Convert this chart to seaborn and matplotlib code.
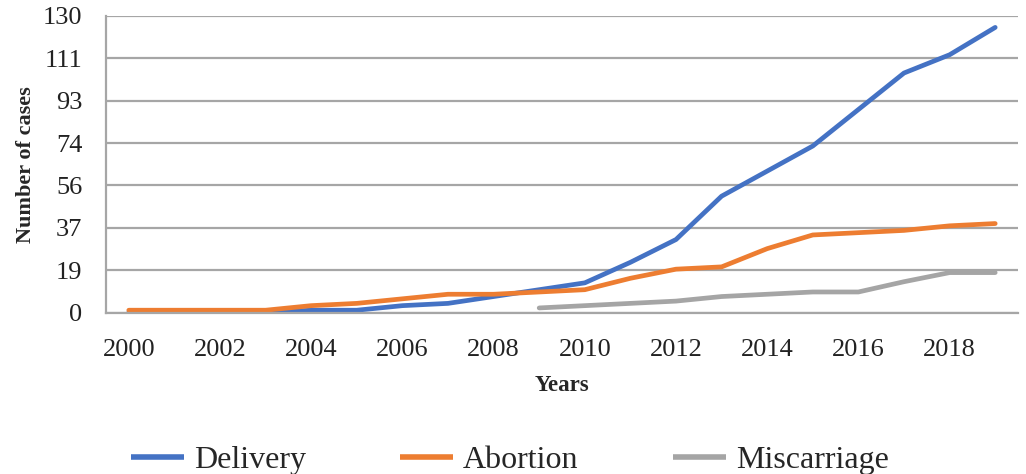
import numpy as np
import pandas as pd
import matplotlib
matplotlib.use("Agg")
import matplotlib.pyplot as plt
import seaborn as sns
from matplotlib.lines import Line2D

years = list(range(2000, 2020))
delivery = [0, 0, 0, 0, 1, 1, 3, 4, 7, 10, 13, 22, 32, 51, 62, 73, 89, 105, 113, 125]
abortion = [1, 1, 1, 1, 3, 4, 6, 8, 8, 9, 10, 15, 19, 20, 28, 34, 35, 36, 38, 39]
miscarriage = [np.nan] * 9 + [2, 3, 4, 5, 7, 8, 9, 9, 13.5, 17.5, 17.5]
series_names = ["Delivery", "Abortion", "Miscarriage"]
colors = ["#4472C4", "#ED7D31", "#A5A5A5"]
ytick_vals = [0, 130 / 7, 2 * 130 / 7, 3 * 130 / 7, 4 * 130 / 7, 5 * 130 / 7, 6 * 130 / 7, 130]
ytick_labels = ["0", "19", "37", "56", "74", "93", "111", "130"]
xtick_vals = list(range(2000, 2020, 2))

df = pd.DataFrame({
    "Year": years * 3,
    "Cases": delivery + abortion + miscarriage,
    "Series": sum([[n] * len(years) for n in series_names], []),
})

sns.set_theme(style="white")
plt.rcParams["font.family"] = ["Liberation Serif", "DejaVu Serif"]

fig = plt.figure(figsize=(10.26, 4.74), dpi=100)
ax = fig.add_axes([106 / 1026, 1 - 312.5 / 474, (1018 - 106) / 1026, (312.5 - 16) / 474])

sns.lineplot(data=df, x="Year", y="Cases", hue="Series", hue_order=series_names,
             palette=colors, linewidth=3.4, ax=ax, legend=False)

ax.set_xlim(1999.5, 2019.5)
ax.set_ylim(0, 130)
ax.set_yticks(ytick_vals)
ax.set_yticklabels(ytick_labels)
ax.set_xticks(xtick_vals)
ax.set_xticklabels([str(x) for x in xtick_vals])
ax.yaxis.grid(True, color="#A6A6A6", linewidth=1.6)
ax.set_axisbelow(True)
ax.tick_params(axis="both", length=0, labelsize=19, colors="#222222")
ax.tick_params(axis="y", pad=17)
ax.tick_params(axis="x", pad=19)
for s in ["top", "right"]:
    ax.spines[s].set_visible(False)
for s in ["left", "bottom"]:
    ax.spines[s].set_color("#A6A6A6")
    ax.spines[s].set_linewidth(1.6)
    ax.spines[s].set_zorder(3)

ax.set_xlabel("Years", fontsize=16.5, fontweight="bold", labelpad=10)
ax.set_ylabel("Number of cases", fontsize=16, fontweight="bold", labelpad=5)

handles = [Line2D([], [], color=c, linewidth=4, solid_capstyle="butt") for c in colors]
fig.legend(handles, series_names, loc="center", bbox_to_anchor=(0.497, 0.028), ncol=3,
           frameon=False, fontsize=23, handlelength=1.66, handletextpad=0.31,
           columnspacing=2.95, borderpad=0.1)

fig.savefig("out.png", dpi=100)
